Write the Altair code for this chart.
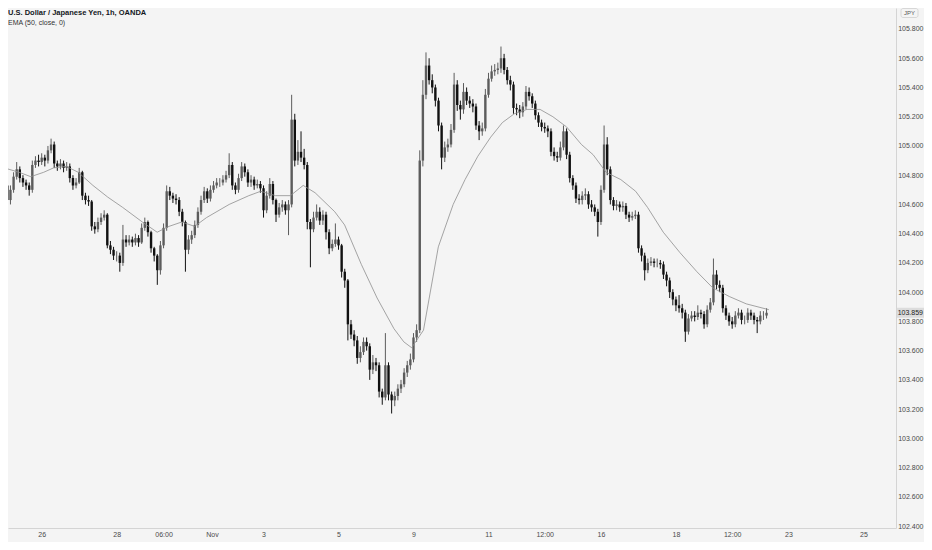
import altair as alt
import pandas as pd

# ---------------- data (2-hour candles, USD/JPY) ----------------
first_open = 104.70
closes = [
    104.73, 104.63, 104.70, 104.79, 104.84, 104.78, 104.75, 104.73, 104.70, 104.87,
    104.90, 104.89, 104.92, 104.90, 104.97, 105.01, 104.88, 104.86, 104.88, 104.85,
    104.86, 104.78, 104.73, 104.75, 104.82, 104.66, 104.63, 104.62, 104.45, 104.43,
    104.48, 104.51, 104.53, 104.32, 104.29, 104.25, 104.25, 104.20, 104.36, 104.34,
    104.36, 104.34, 104.37, 104.34, 104.44, 104.48, 104.41, 104.30, 104.25, 104.15,
    104.32, 104.44, 104.69, 104.66, 104.64, 104.63, 104.55, 104.48, 104.29, 104.36,
    104.39, 104.46, 104.55, 104.63, 104.69, 104.64, 104.70, 104.73, 104.75, 104.75,
    104.77, 104.80, 104.87, 104.73, 104.70, 104.78, 104.86, 104.82, 104.75, 104.77,
    104.73, 104.74, 104.71, 104.56, 104.66, 104.74, 104.63, 104.53, 104.58, 104.60,
    104.56, 104.60, 105.18, 104.90, 104.96, 104.92, 104.87, 104.48, 104.43, 104.51,
    104.55, 104.49, 104.53, 104.41, 104.30, 104.33, 104.36, 104.32, 104.14, 104.08,
    103.78, 103.71, 103.67, 103.55, 103.59, 103.66, 103.63, 103.47, 103.52, 103.50,
    103.32, 103.28, 103.50, 103.30, 103.26, 103.29, 103.34, 103.37, 103.45, 103.50,
    103.54, 103.69, 103.74, 104.90, 105.35, 105.55, 105.45, 105.40, 105.31, 105.14,
    104.92, 104.99, 105.01, 105.11, 105.42, 105.28, 105.25, 105.37, 105.31, 105.29,
    105.27, 105.14, 105.10, 105.12, 105.35, 105.46, 105.51, 105.52, 105.53, 105.60,
    105.52, 105.45, 105.42, 105.26, 105.25, 105.23, 105.27, 105.37, 105.34, 105.29,
    105.21, 105.16, 105.13, 105.12, 105.10, 104.96, 104.93, 104.92, 104.99, 105.10,
    104.94, 104.78, 104.73, 104.64, 104.63, 104.66, 104.67, 104.60, 104.58, 104.55,
    104.48, 104.70, 105.01, 104.84, 104.63, 104.59, 104.60, 104.58, 104.59, 104.53,
    104.51, 104.52, 104.53, 104.30, 104.25, 104.15, 104.20, 104.21, 104.20, 104.20,
    104.19, 104.12, 104.08, 104.00, 103.95, 103.91, 103.89, 103.86, 103.73, 103.82,
    103.84, 103.83, 103.86, 103.85, 103.78, 103.88, 103.93, 104.12, 104.05, 104.03,
    103.89, 103.84, 103.80, 103.78, 103.84, 103.86, 103.81, 103.81, 103.86, 103.84,
    103.81, 103.80, 103.84, 103.84, 103.859,
]
highs = [
    104.76, 104.75, 104.73, 104.82, 104.89, 104.86, 104.80, 104.77, 104.75, 104.90,
    104.93, 104.94, 104.95, 104.94, 105.00, 105.05, 105.03, 104.90, 104.91, 104.90,
    104.89, 104.88, 104.80, 104.78, 104.85, 104.83, 104.68, 104.66, 104.63, 104.48,
    104.51, 104.54, 104.56, 104.54, 104.35, 104.31, 104.28, 104.27, 104.46, 104.39,
    104.39, 104.38, 104.40, 104.39, 104.47, 104.51, 104.49, 104.42, 104.31, 104.26,
    104.35, 104.47, 104.73, 104.72, 104.68, 104.67, 104.65, 104.57, 104.49, 104.39,
    104.42, 104.49, 104.58, 104.66, 104.72, 104.71, 104.73, 104.76, 104.78, 104.78,
    104.80, 104.83, 104.95, 104.89, 104.75, 104.81, 104.89, 104.88, 104.84, 104.80,
    104.79, 104.77, 104.76, 104.73, 104.69, 104.78, 104.76, 104.64, 104.61, 104.63,
    104.62, 104.63, 105.35, 105.22, 105.04, 105.10, 104.98, 104.89, 104.50, 104.55,
    104.60, 104.58, 104.56, 104.55, 104.43, 104.36, 104.47, 104.38, 104.33, 104.16,
    104.09, 103.81, 103.74, 103.70, 103.63, 103.69, 103.69, 103.65, 103.57, 103.55,
    103.52, 103.34, 103.72, 103.52, 103.32, 103.32, 103.37, 103.40, 103.48, 103.53,
    103.58, 103.72, 103.78, 104.97, 105.45, 105.64, 105.60, 105.49, 105.42, 105.33,
    105.16, 105.03, 105.05, 105.15, 105.50, 105.45, 105.31, 105.43, 105.40, 105.34,
    105.32, 105.29, 105.17, 105.16, 105.39, 105.50, 105.55, 105.56, 105.57, 105.68,
    105.63, 105.54, 105.48, 105.44, 105.29, 105.28, 105.30, 105.41, 105.40, 105.36,
    105.31, 105.23, 105.18, 105.16, 105.14, 105.12, 104.99, 104.96, 105.03, 105.14,
    105.12, 104.96, 104.80, 104.75, 104.67, 104.69, 104.71, 104.69, 104.63, 104.60,
    104.57, 104.73, 105.14, 105.06, 104.86, 104.65, 104.63, 104.62, 104.62, 104.61,
    104.55, 104.55, 104.56, 104.55, 104.32, 104.27, 104.23, 104.24, 104.23, 104.23,
    104.22, 104.21, 104.14, 104.10, 104.02, 103.97, 103.98, 103.92, 103.88, 103.85,
    103.87, 103.87, 103.91, 103.88, 103.87, 103.91, 103.96, 104.23, 104.15, 104.08,
    104.05, 103.91, 103.86, 103.83, 103.87, 103.89, 103.88, 103.84, 103.89, 103.88,
    103.86, 103.83, 103.87, 103.87, 103.89,
]
lows = [
    104.66, 104.56, 104.60, 104.68, 104.77, 104.75, 104.72, 104.70, 104.66, 104.68,
    104.85, 104.86, 104.87, 104.86, 104.88, 104.95, 104.85, 104.83, 104.84, 104.82,
    104.83, 104.75, 104.70, 104.71, 104.74, 104.63, 104.60, 104.59, 104.42, 104.40,
    104.41, 104.46, 104.49, 104.30, 104.26, 104.22, 104.21, 104.14, 104.18, 104.31,
    104.32, 104.31, 104.32, 104.31, 104.33, 104.42, 104.38, 104.27, 104.21, 104.05,
    104.12, 104.30, 104.42, 104.63, 104.61, 104.60, 104.52, 104.45, 104.14, 104.26,
    104.33, 104.37, 104.44, 104.53, 104.61, 104.61, 104.62, 104.68, 104.71, 104.72,
    104.73, 104.75, 104.78, 104.70, 104.67, 104.68, 104.76, 104.79, 104.72, 104.72,
    104.70, 104.71, 104.68, 104.51, 104.54, 104.64, 104.60, 104.48, 104.51, 104.55,
    104.53, 104.39, 104.58, 104.86, 104.87, 104.89, 104.84, 104.43, 104.17, 104.41,
    104.49, 104.46, 104.46, 104.36, 104.26, 104.28, 104.31, 104.29, 104.10, 104.03,
    103.67, 103.68, 103.63, 103.51, 103.52, 103.57, 103.60, 103.40, 103.44, 103.46,
    103.28, 103.23, 103.26, 103.26, 103.17, 103.22, 103.26, 103.31, 103.35, 103.42,
    103.47, 103.52, 103.66, 103.72, 104.86, 105.32, 105.42, 105.36, 105.27, 105.10,
    104.84, 104.89, 104.96, 104.99, 105.09, 105.24, 105.18, 105.22, 105.28, 105.26,
    105.23, 105.11, 105.04, 105.07, 105.10, 105.33, 105.44, 105.48, 105.49, 105.50,
    105.49, 105.42, 105.38, 105.22, 105.21, 105.19, 105.20, 105.25, 105.31, 105.26,
    105.18, 105.13, 105.10, 105.09, 105.06, 104.93, 104.90, 104.89, 104.90, 104.97,
    104.91, 104.75, 104.70, 104.61, 104.60, 104.60, 104.63, 104.57, 104.55, 104.52,
    104.38, 104.46, 104.68, 104.80, 104.60, 104.56, 104.56, 104.55, 104.55, 104.50,
    104.48, 104.49, 104.50, 104.27, 104.21, 104.08, 104.13, 104.18, 104.17, 104.17,
    104.16, 104.09, 104.04, 103.96, 103.91, 103.87, 103.86, 103.82, 103.66, 103.71,
    103.80, 103.80, 103.81, 103.82, 103.75, 103.76, 103.86, 103.91, 104.02, 104.00,
    103.86, 103.81, 103.77, 103.75, 103.76, 103.82, 103.78, 103.78, 103.79, 103.81,
    103.78, 103.72, 103.78, 103.81, 103.82,
]

# EMA(50, close) line (hours since start, value)
ema_hours = [0, 9.5, 17, 25.3, 31.6, 39.8, 47.4, 56.8, 66.3, 75.8, 88.4, 97.9, 105.5,
             113.7, 121.9, 129.5, 144, 156.6, 164.2, 173.7, 183.2, 191.4, 199, 211.6,
             217.9, 228.6, 238.7, 249.5, 255.8, 260.8, 268.4, 277.9, 287.4, 295, 303.2,
             311.4, 318.9, 326.5, 334.7, 343, 351.2, 360, 369.5, 377, 385.3, 394.7,
             404.2, 411.8, 421.9, 432.6, 443.4, 453.5, 464.2, 475, 489.5]
ema_values = [104.85, 104.82, 104.79, 104.82, 104.85, 104.86, 104.82, 104.73, 104.65,
              104.58, 104.48, 104.41, 104.45, 104.48, 104.45, 104.51, 104.60, 104.66,
              104.69, 104.66, 104.66, 104.73, 104.68, 104.55, 104.46, 104.19, 103.96,
              103.75, 103.66, 103.62, 103.74, 104.31, 104.60, 104.77, 104.93, 105.06,
              105.16, 105.22, 105.25, 105.25, 105.20, 105.13, 105.01, 104.94, 104.82,
              104.77, 104.69, 104.58, 104.41, 104.27, 104.14, 104.03, 103.97, 103.92,
              103.88]

tick_hours = [24, 72, 102, 133, 166, 214, 262, 310, 346, 382, 430, 466, 502, 550]
tick_labels = ["26", "28", "06:00", "Nov", "3", "5", "9", "11", "12:00", "16", "18",
               "12:00", "23", "25"]
price_ticks = [102.4, 102.6, 102.8, 103.0, 103.2, 103.4, 103.6, 103.8, 104.0, 104.2,
               104.4, 104.6, 104.8, 105.0, 105.2, 105.4, 105.6, 105.8]
last_price = 103.859
title_text = "U.S. Dollar / Japanese Yen, 1h, OANDA"
indicator_text = "EMA (50, close, 0)"

# ---------------- table ----------------
n = len(closes)
opens = [first_open] + closes[:-1]
df = pd.DataFrame({
    "h": [2 * i for i in range(n)],
    "open": opens, "high": highs[:n], "low": lows[:n], "close": closes,
})
df["dir"] = ["up" if c >= o else "down" for o, c in zip(opens, closes)]
ema_df = pd.DataFrame({"h": ema_hours, "v": ema_values})

# whole chart must fit 916 x 534 (page is 932 x 550 with an 8px margin)
W, H = 888, 520
PAD_R, PAD_B = 28, 14
FONT = "Liberation Sans"
xs = alt.Scale(domain=[5.63, 567.66], nice=False, zero=False)
ys = alt.Scale(domain=[102.3869, 105.9436], nice=False, zero=False)

label_expr = " : ".join(f"datum.value == {h} ? '{l}'" for h, l in zip(tick_hours, tick_labels)) + " : ''"
x_axis = alt.Axis(values=tick_hours, labelExpr=label_expr, title=None, grid=False,
                  tickSize=0, labelPadding=6.5, labelBaseline="middle", labelFontSize=7,
                  labelFont=FONT, labelColor="#4a4a4a", domainColor="#d4d4d4",
                  labelOverlap=False, labelFlush=False)
y_axis = alt.Axis(values=price_ticks, format=".3f", orient="right", title=None,
                  grid=False, tickSize=0, labelPadding=27, labelAlign="right",
                  labelFontSize=7, labelFont=FONT, labelColor="#4a4a4a",
                  domainColor="#d4d4d4", labelOverlap=False, labelFlush=False)

color = alt.Color("dir:N", scale=alt.Scale(domain=["up", "down"],
                                           range=["#5c5c5c", "#111111"]), legend=None)

base = alt.Chart(df)
wicks = base.mark_rule(strokeWidth=1, clip=True).encode(
    x=alt.X("h:Q", scale=xs, axis=x_axis),
    y=alt.Y("low:Q", scale=ys, axis=y_axis),
    y2="high:Q",
    color=color,
)
bodies = base.mark_bar(size=2.4, clip=True).encode(
    x=alt.X("h:Q", scale=xs, axis=x_axis),
    y=alt.Y("open:Q", scale=ys, axis=y_axis),
    y2="close:Q",
    color=color,
)
ema = alt.Chart(ema_df).mark_line(strokeWidth=0.8, color="#8e8e8e", clip=True).encode(
    x=alt.X("h:Q", scale=xs, axis=x_axis),
    y=alt.Y("v:Q", scale=ys, axis=y_axis),
)

last_df = pd.DataFrame({"p": [last_price], "t": [f"{last_price:.3f}"]})
last_box = alt.Chart(last_df).mark_rect(color="#dcdcdc", yOffset=-5, y2Offset=5).encode(
    x=alt.value(W + 1), x2=alt.value(W + PAD_R),
    y=alt.Y("p:Q", scale=ys, axis=y_axis), y2="p:Q",
)
last_txt = alt.Chart(last_df).mark_text(align="right", baseline="middle", fontSize=7,
                                        font=FONT, color="#222222").encode(
    x=alt.value(W + 27), y=alt.Y("p:Q", scale=ys, axis=y_axis), text="t:N",
)

title_df = pd.DataFrame({"t": [title_text]})
title = alt.Chart(title_df).mark_text(align="left", baseline="middle", fontSize=7.5,
                                      fontWeight="bold", font=FONT,
                                      color="#131722").encode(
    x=alt.value(0), y=alt.value(4.5), text="t:N")
ind_df = pd.DataFrame({"t": [indicator_text]})
ind = alt.Chart(ind_df).mark_text(align="left", baseline="middle", fontSize=7,
                                  font=FONT, color="#333333").encode(
    x=alt.value(0), y=alt.value(14.5), text="t:N")

jpy_df = pd.DataFrame({"t": ["JPY"]})
jpy_box = alt.Chart(jpy_df).mark_rect(fill="#f4f4f4", stroke="#cfcfcf", strokeWidth=0.8,
                                      cornerRadius=2).encode(
    x=alt.value(W + 5), x2=alt.value(W + 22), y=alt.value(0.5), y2=alt.value(9.5))
jpy_txt = alt.Chart(jpy_df).mark_text(align="center", baseline="middle", fontSize=6,
                                      font=FONT, color="#555555").encode(
    x=alt.value(W + 13.5), y=alt.value(5.2), text="t:N")

chart = alt.layer(wicks, bodies, ema, last_box, last_txt, title, ind, jpy_box, jpy_txt).properties(
    width=W, height=H,
    autosize=alt.AutoSizeParams(type="none"),
    padding={"left": 0, "top": 0, "right": PAD_R, "bottom": PAD_B},
    background="#f4f4f4",
).configure_view(strokeWidth=0)

chart.save("out.html", embed_options={"renderer": "svg", "actions": False})
